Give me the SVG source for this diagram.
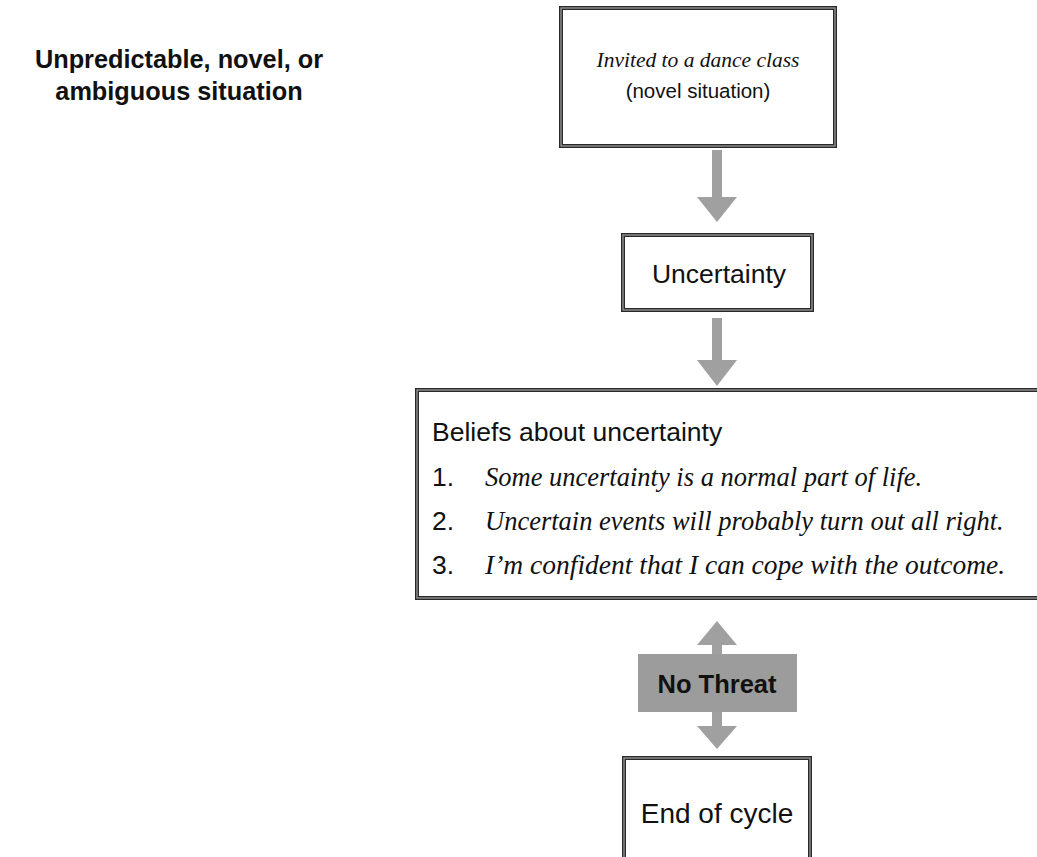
<svg xmlns="http://www.w3.org/2000/svg" width="1037" height="857" viewBox="0 0 1037 857">
<style>
.frame{fill:#fff;stroke:#2a2a2a;stroke-width:4}
.frame-in{fill:none;stroke:#9a9a9a;stroke-width:1.3}
.arrow{fill:#a0a0a0}
.sans{font-family:"Liberation Sans",Arial,sans-serif;fill:#111}
.serif{font-family:"Liberation Serif","Times New Roman",serif;font-style:italic;fill:#111}
</style>
<rect width="1037" height="857" fill="#fff"/>
<g id="title">
<text class="sans" font-size="25.3" font-weight="bold" text-anchor="middle" x="179" y="68">Unpredictable, novel, or</text>
<text class="sans" font-size="25.3" font-weight="bold" text-anchor="middle" x="179" y="100">ambiguous situation</text>
</g>
<g id="connectors">
<rect class="arrow" x="712" y="150" width="10" height="48"/>
<polygon class="arrow" points="697,197 737,197 717,222"/>
<rect class="arrow" x="712" y="318" width="10" height="43"/>
<polygon class="arrow" points="697,360 737,360 717,386"/>
<polygon class="arrow" points="697,645 737,645 717,621"/>
<rect class="arrow" x="712" y="644" width="10" height="12"/>
<rect class="arrow" x="712" y="711" width="10" height="16"/>
<polygon class="arrow" points="697,726 737,726 717,749"/>
</g>
<g id="node-situation">
<rect class="frame" x="561" y="8" width="274" height="138"/>
<rect class="frame-in" x="561" y="8" width="274" height="138"/>
<text class="serif" font-size="21.5" text-anchor="middle" x="698" y="67">Invited to a dance class</text>
<text class="sans" font-size="20.5" text-anchor="middle" x="698" y="98">(novel situation)</text>
</g>
<g id="node-uncertainty">
<rect class="frame" x="623" y="235" width="189" height="75"/>
<rect class="frame-in" x="623" y="235" width="189" height="75"/>
<text class="sans" font-size="26.5" text-anchor="middle" x="719" y="283">Uncertainty</text>
</g>
<g id="node-beliefs">
<rect class="frame" x="417" y="390" width="640" height="208"/>
<rect class="frame-in" x="417" y="390" width="640" height="208"/>
<text class="sans" font-size="26.5" x="432" y="441">Beliefs about uncertainty</text>
<text class="sans" font-size="26.5" x="432" y="486">1.</text>
<text class="serif" font-size="26.5" x="485" y="486">Some uncertainty is a normal part of life.</text>
<text class="sans" font-size="26.5" x="432" y="530">2.</text>
<text class="serif" font-size="26.5" x="485" y="530">Uncertain events will probably turn out all right.</text>
<text class="sans" font-size="26.5" x="432" y="574">3.</text>
<text class="serif" font-size="27.5" x="485" y="574">I’m confident that I can cope with the outcome.</text>
</g>
<g id="node-nothreat">
<rect x="638" y="654" width="159" height="58" fill="#9c9c9c"/>
<text class="sans" font-size="25.5" font-weight="bold" text-anchor="middle" x="717" y="693">No Threat</text>
</g>
<g id="node-end">
<rect class="frame" x="624" y="758" width="186" height="120"/>
<rect class="frame-in" x="624" y="758" width="186" height="120"/>
<text class="sans" font-size="28" text-anchor="middle" x="717" y="823">End of cycle</text>
</g>
</svg>
